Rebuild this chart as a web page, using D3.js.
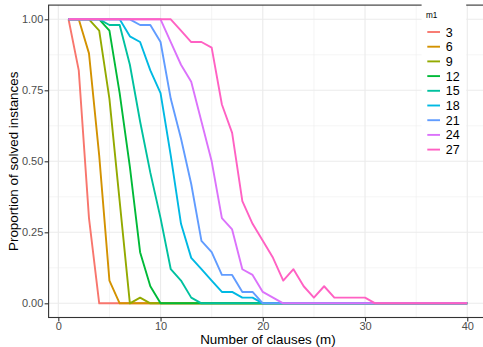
<!DOCTYPE html>
<html>
<head>
<meta charset="utf-8">
<script src="https://cdn.jsdelivr.net/npm/d3@7"></script>
<style>
  html, body { margin: 0; padding: 0; background: #ffffff; }
  svg { display: block; font-family: "Liberation Sans", Arial, sans-serif; }
</style>
</head>
<body>
<svg id="chart" width="483" height="347"></svg>
<script>
// ---- data ----
const clauses = [1,2,3,4,5,6,7,8,9,10,11,12,13,14,15,16,17,18,19,20,21,22,23,24,25,26,27,28,29,30,31,32,33,34,35,36,37,38,39,40];
const m1Levels = ["3","6","9","12","15","18","21","24","27"];
const s3  = [1,0.82,0.30,0,0,0,0,0,0,0, 0,0,0,0,0,0,0,0,0,0, 0,0,0,0,0,0,0,0,0,0, 0,0,0,0,0,0,0,0,0,0];
const s6  = [1,1,0.88,0.52,0.08,0,0,0,0,0, 0,0,0,0,0,0,0,0,0,0, 0,0,0,0,0,0,0,0,0,0, 0,0,0,0,0,0,0,0,0,0];
const s9  = [1,1,1,0.96,0.72,0.36,0,0.02,0,0, 0,0,0,0,0,0,0,0,0,0, 0,0,0,0,0,0,0,0,0,0, 0,0,0,0,0,0,0,0,0,0];
const s12 = [1,1,1,1,0.96,0.74,0.48,0.18,0.06,0, 0,0,0,0,0,0,0,0,0,0, 0,0,0,0,0,0,0,0,0,0, 0,0,0,0,0,0,0,0,0,0];
const s15 = [1,1,1,1,0.98,0.98,0.84,0.64,0.46,0.30, 0.12,0.08,0.02,0,0,0,0,0,0,0, 0,0,0,0,0,0,0,0,0,0, 0,0,0,0,0,0,0,0,0,0];
const s18 = [1,1,1,1,1,1,0.94,0.92,0.82,0.74, 0.52,0.28,0.16,0.12,0.08,0.04,0.04,0.02,0.02,0, 0,0,0,0,0,0,0,0,0,0, 0,0,0,0,0,0,0,0,0,0];
const s21 = [1,1,1,1,1,1,1,0.98,0.98,0.92, 0.72,0.58,0.42,0.22,0.18,0.10,0.10,0.04,0.04,0, 0,0,0,0,0,0,0,0,0,0, 0,0,0,0,0,0,0,0,0,0];
const s24 = [1,1,1,1,1,1,1,1,1,1, 0.92,0.84,0.78,0.64,0.50,0.30,0.26,0.12,0.10,0.04, 0.02,0,0,0,0,0,0,0,0,0, 0,0,0,0,0,0,0,0,0,0];
const s27 = [1,1,1,1,1,1,1,1,1,1, 1,0.96,0.92,0.92,0.90,0.70,0.60,0.36,0.28,0.22, 0.16,0.08,0.12,0.06,0.02,0.06,0.02,0.02,0.02,0.02, 0,0,0,0,0,0,0,0,0,0];
const seriesValues = [s3, s6, s9, s12, s15, s18, s21, s24, s27];
const xTicks = [0, 10, 20, 30, 40];
const yTicks = [0, 0.25, 0.5, 0.75, 1];
const yTickLabels = ["0.00", "0.25", "0.50", "0.75", "1.00"];
const xMinor = [5, 15, 25, 35];
const yMinor = [0.125, 0.375, 0.625, 0.875];
const palette = ["#F8766D","#D39200","#93AA00","#00BA38","#00C19F","#00B9E3","#619CFF","#DB72FB","#FF61C3"];

// ---- drawing ----
const svg = d3.select("#chart");
const x = d3.scaleLinear().domain([-0.95, 41.95]).range([48.6, 487.2]);
const y = d3.scaleLinear().domain([-0.05, 1.05]).range([317.5, 5.1]);
const color = d3.scaleOrdinal().domain(m1Levels).range(palette);

const panel = svg.append("g");
panel.append("rect").attr("x", x(-0.95)).attr("y", y(1.05))
  .attr("width", x(41.95) - x(-0.95)).attr("height", y(-0.05) - y(1.05)).attr("fill", "#ffffff");

// minor grid
panel.selectAll(".gxm").data(xMinor).join("line")
  .attr("x1", d => x(d)).attr("x2", d => x(d)).attr("y1", y(-0.05)).attr("y2", y(1.05))
  .attr("stroke", "#EBEBEB").attr("stroke-width", 0.55);
panel.selectAll(".gym").data(yMinor).join("line")
  .attr("y1", d => y(d)).attr("y2", d => y(d)).attr("x1", x(-0.95)).attr("x2", x(41.95))
  .attr("stroke", "#EBEBEB").attr("stroke-width", 0.55);
// major grid
panel.selectAll(".gx").data(xTicks).join("line")
  .attr("x1", d => x(d)).attr("x2", d => x(d)).attr("y1", y(-0.05)).attr("y2", y(1.05))
  .attr("stroke", "#EBEBEB").attr("stroke-width", 1.1);
panel.selectAll(".gy").data(yTicks).join("line")
  .attr("y1", d => y(d)).attr("y2", d => y(d)).attr("x1", x(-0.95)).attr("x2", x(41.95))
  .attr("stroke", "#EBEBEB").attr("stroke-width", 1.1);

// lines
const line = d3.line().x((d, i) => x(clauses[i])).y(d => y(d));
svg.append("g").selectAll("path").data(seriesValues).join("path")
  .attr("d", d => line(d))
  .attr("fill", "none")
  .attr("stroke", (d, i) => color(m1Levels[i]))
  .attr("stroke-width", 1.9)
  .attr("stroke-linejoin", "round");

// border
svg.append("rect").attr("x", x(-0.95)).attr("y", y(1.05))
  .attr("width", x(41.95) - x(-0.95)).attr("height", y(-0.05) - y(1.05))
  .attr("fill", "none").attr("stroke", "#333333").attr("stroke-width", 1.1);

// axes
const xAxis = svg.append("g").attr("transform", `translate(0,${y(-0.05)})`)
  .call(d3.axisBottom(x).tickValues(xTicks).tickSize(4).tickPadding(1).tickFormat(d3.format("d")));
const yAxis = svg.append("g").attr("transform", `translate(${x(-0.95)},0)`)
  .call(d3.axisLeft(y).tickValues(yTicks).tickSize(4).tickPadding(1.3).tickFormat((d, i) => yTickLabels[i]));
[xAxis, yAxis].forEach(a => {
  a.select(".domain").remove();
  a.selectAll(".tick line").attr("stroke", "#333333").attr("stroke-width", 1.1);
  a.selectAll(".tick text").attr("fill", "#4D4D4D").attr("font-size", "11px")
    .attr("font-family", "'Liberation Sans', Arial, sans-serif");
});

// axis titles
svg.append("text").attr("x", (x(-0.95) + x(41.95)) / 2).attr("y", 343.5)
  .attr("text-anchor", "middle").attr("font-size", "13.4px").attr("fill", "#000")
  .text("Number of clauses (m)");
svg.append("text")
  .attr("transform", `translate(17.5,${(y(-0.05) + y(1.05)) / 2}) rotate(-90)`)
  .attr("text-anchor", "middle").attr("font-size", "13.4px").attr("fill", "#000")
  .text("Proportion of solved instances");

// legend
const lg = svg.append("g");
lg.append("rect").attr("x", 421.6).attr("y", 0).attr("width", 44.6).attr("height", 159).attr("fill", "#ffffff");
lg.append("text").attr("x", 426).attr("y", 18.3).attr("font-size", "8.2px").attr("fill", "#000").text("m1");
const items = lg.selectAll(".item").data(m1Levels).join("g")
  .attr("transform", (d, i) => `translate(0,${32 + i * 14.7})`);
items.append("line").attr("x1", 427.3).attr("x2", 440).attr("y1", 0).attr("y2", 0)
  .attr("stroke", d => color(d)).attr("stroke-width", 1.9);
items.append("text").attr("x", 445.8).attr("y", 0).attr("dy", "0.36em")
  .attr("font-size", "12.5px").attr("fill", "#000").text(d => d);
</script>
</body>
</html>
